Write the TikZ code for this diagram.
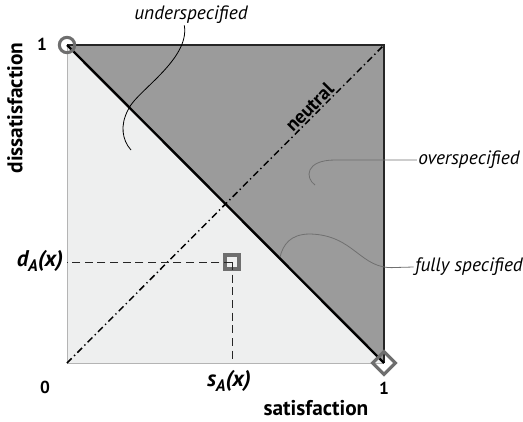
\documentclass[tikz,border=0pt]{standalone}
\usepackage{fontspec}
\setmainfont{PT Sans}
\usepackage{tikz}
\usetikzlibrary{shapes.geometric,positioning}
\definecolor{darkreg}{HTML}{9B9B9B}
\definecolor{lightreg}{HTML}{EEEFEF}
\definecolor{markline}{HTML}{6E6E6E}
\definecolor{leaderline}{HTML}{707070}
\definecolor{frameline}{HTML}{B4B4B4}
\tikzset{
  axislabel/.style={font=\bfseries\fontsize{16}{18}\selectfont, inner sep=1pt},
  ticklabel/.style={font=\bfseries\fontsize{13}{15}\selectfont, inner sep=1pt},
  regionlabel/.style={font=\itshape\fontsize{14.5}{16}\selectfont, inner sep=1pt},
  valuelabel/.style={font=\bfseries\itshape\fontsize{17}{19}\selectfont, inner sep=1pt},
  markbox/.style={draw=markline, line width=2.3pt, inner sep=0pt},
  leader/.style={line width=0.6pt},
  guide/.style={dash pattern=on 6pt off 3.5pt, line width=0.6pt, draw=black!85},
  neutralline/.style={dash pattern=on 5pt off 2.5pt on 1pt off 2.5pt, line width=1.1pt}
}
\newcommand{\sub}[1]{\raisebox{-0.45ex}{\fontsize{12.5}{12.5}\selectfont #1}}

\begin{document}
\begin{tikzpicture}[x=0.75pt,y=-0.75pt]
  \useasboundingbox (0,0) rectangle (523,421);

  % corners of the unit square
  \coordinate (orig) at (67,363);
  \coordinate (sone) at (384,363);
  \coordinate (done) at (67,45);
  \coordinate (both) at (384,45);

  % regions
  \fill[lightreg] (orig) -- (done) -- (sone) -- cycle;
  \draw[frameline, line width=0.7pt] (done) -- (orig) -- (sone);
  \fill[darkreg] (done) -- (both) -- (sone) -- cycle;
  \draw[black!85, line width=0.8pt] (done) -- (both) -- (sone);

  % neutral line and fully specified diagonal
  \draw[neutralline] (orig) -- (both)
    node[pos=0.785, sloped, above, font=\bfseries\fontsize{14.5}{16}\selectfont, inner sep=1pt] (neutral) {neutral};
  \draw[line width=1.8pt] (done) -- (sone);

  % point and its projections
  \node[markbox, rectangle, fill=lightreg, minimum size=10.5pt] (pt) at (232,262) {};
  \coordinate (dproj) at (pt.center -| orig);
  \coordinate (sproj) at (pt.center |- orig);
  \draw[guide] (pt.center) -- (dproj);
  \draw[guide] (pt.center) -- (sproj);

  % corner markers
  \node[markbox, circle, minimum size=11.5pt] (topmark) at (done) {};
  \node[markbox, diamond, minimum size=18pt] (botmark) at (sone) {};

  % axis ticks and titles
  \node[ticklabel] (tickd) at (42,44) {1};
  \node[ticklabel] (tickz) at (45,387) {0};
  \node[ticklabel] (ticks) at (384,388) {1};
  \node[axislabel, rotate=90] (dissat) at (15,108) {dissatisfaction};
  \node[axislabel] (sat) at (316,408) {satisfaction};
  \node[valuelabel] (dval) at (40,261) {d\sub{A}(x)};
  \node[valuelabel] (sval) at (229,381) {s\sub{A}(x)};

  % region labels
  \node[regionlabel] (under) at (191,15) {underspecified};
  \node[regionlabel] (over) at (469,160) {overspecified};
  \node[regionlabel] (full) at (469,267) {fully specified};

  \coordinate (underend) at (131,150);
  \coordinate (overend) at (315,185);
  \coordinate (fullend) at (280,257);

  \draw[leader, black] ([xshift=-5pt]under.south) .. controls (190,60) and (135,92) .. (128,110)
    .. controls (120,125) and (122,140) .. (underend);
  \draw[leader, leaderline] (over.west) -- (335,160) .. controls (305,160) and (305,178) .. (overend);
  \draw[leader, leaderline] (full.west) -- (395,267.5) .. controls (360,270) and (355,235) .. (310,234)
    .. controls (290,234) and (283,245) .. (fullend);

\end{tikzpicture}
\end{document}
